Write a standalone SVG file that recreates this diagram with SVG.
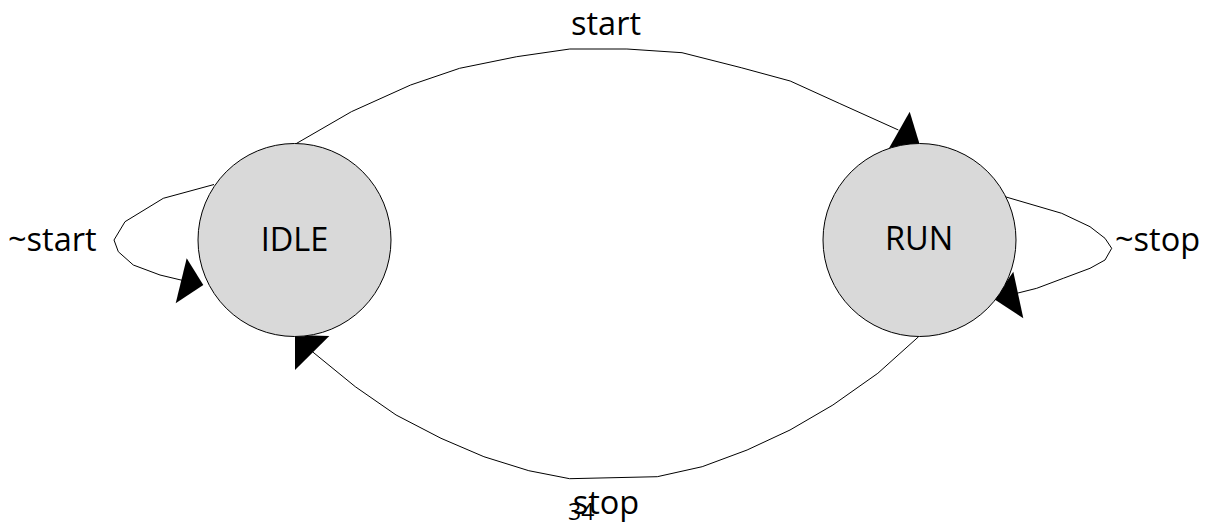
<svg xmlns="http://www.w3.org/2000/svg" width="1212" height="522" viewBox="0 0 1212 522">
  <style>
    .state { fill: #d9d9d9; stroke: #000; stroke-width: 1; }
    .edge { fill: none; stroke: #000; stroke-width: 1; }
    .head { fill: #000; stroke: none; }
    text { font-family: "Open Sans", "Liberation Sans", sans-serif; font-size: 32.5px; fill: #000; }
    .mid { text-anchor: middle; }
  </style>
  <rect width="1212" height="522" fill="#fff"/>

  <!-- transitions -->
  <g id="connectors">
    <!-- IDLE -> RUN on start -->
    <polyline class="edge" points="295.5,144 351.4,111.7 410.6,85 459.6,68.3 516.7,56.7 569.8,49 626.9,49 682,52.7 741.2,67.7 790.2,81 839.2,103.3 898.4,130"/>
    <polygon class="head" points="909.7,111.7 886.7,152.3 919.3,143.3"/>
    <!-- RUN -> IDLE on stop -->
    <polyline class="edge" points="918.6,336.7 877.8,373.3 832.9,405 790,430 747.1,450 702.2,466.7 657.3,476.7 569.6,478.7 528.8,470.7 483.9,456.7 441,438.3 396.1,415 355.3,386.7 312.4,351.7"/>
    <polygon class="head" points="295,335 329.3,336 295,370"/>
    <!-- IDLE self loop on ~start -->
    <polyline class="edge" points="214,184.5 163.3,198.3 125,221.7 114,240 118.3,251.7 133.3,265 160,275 183,280.5"/>
    <polygon class="head" points="203.3,285 186.7,258.3 175.7,303.3"/>
    <!-- RUN self loop on ~stop -->
    <polyline class="edge" points="1005,196.7 1061.7,213.3 1090,226.7 1105,238.3 1111.7,248.3 1105,260 1090,268.3 1063.3,278.3 1036.7,288.3 1016,293.5"/>
    <polygon class="head" points="994.3,299.3 1013.3,271.7 1023.3,318.3"/>
  </g>

  <!-- transition labels -->
  <g id="labels">
    <text class="mid" x="606" y="35">start</text>
    <text class="mid" x="606" y="514">stop</text>
    <text x="8" y="251">~start</text>
    <text x="1115" y="251">~stop</text>
    <text x="568" y="520" style="font-size:23px">34</text>
  </g>

  <g id="idle">
    <circle class="state" cx="294.5" cy="240" r="96.5"/>
    <text class="mid" x="294.5" y="251">IDLE</text>
  </g>

  <g id="run">
    <circle class="state" cx="919.5" cy="240" r="96.5"/>
    <text class="mid" x="919" y="250">RUN</text>
  </g>
</svg>
